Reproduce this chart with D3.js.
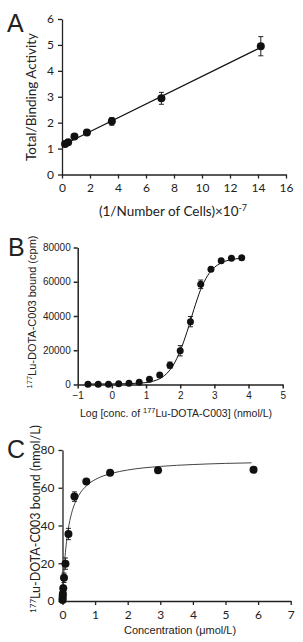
<!DOCTYPE html>
<html>
<head>
<meta charset="utf-8">
<style>
  body { margin: 0; background: #fff; }
  text { fill: #222; }
</style>
</head>
<body>
<script src="https://cdn.jsdelivr.net/npm/d3@7"></script>
<script>
// ---- panel A: total/binding vs 1/number of cells
var aX = [0.22, 0.44, 0.89, 1.78, 3.56, 7.1, 14.2];
var aY = [1.18, 1.24, 1.47, 1.62, 2.05, 2.94, 4.95];
var aErr = [0.05, 0.05, 0.07, 0.06, 0.15, 0.23, 0.37];
var aLineX = [0.1, 14.3];
var aLineY = [1.15, 4.93];
var aXTicks = [0, 2, 4, 6, 8, 10, 12, 14, 16];
var aYTicks = [0, 1, 2, 3, 4, 5, 6];

// ---- panel B: saturation, log concentration
var bX = [-0.7, -0.4, -0.1, 0.2, 0.5, 0.8, 1.1, 1.4, 1.7, 2.0, 2.3, 2.6, 2.9, 3.2, 3.5, 3.8];
var bY = [100, 150, 200, 500, 800, 1300, 3000, 5600, 11300, 19700, 36700, 58500, 67300, 72300, 73700, 74000];
var bErr = [200, 200, 200, 200, 300, 300, 400, 700, 1800, 3000, 3000, 2500, 900, 500, 400, 300];
var bCurveX = [-0.7, 0, 0.5, 0.8, 1.0, 1.2, 1.4, 1.6, 1.8, 2.0, 2.2, 2.4, 2.6, 2.8, 3.0, 3.2, 3.4, 3.6, 3.8];
var bCurveY = [300, 350, 500, 800, 1100, 1900, 3400, 6300, 11400, 19600, 30800, 43800, 55500, 63500, 68300, 71000, 72500, 73300, 73700];
var bXTicks = [-1, 0, 1, 2, 3, 4, 5];
var bYTicks = [0, 20000, 40000, 60000, 80000];

// ---- panel C: saturation, linear concentration
var cX = [0.0014, 0.0029, 0.0057, 0.011, 0.023, 0.046, 0.091, 0.183, 0.366, 0.73, 1.46, 2.93, 5.86];
var cY = [0.5, 1.3, 2.6, 3.9, 6.8, 12.3, 19.8, 35.5, 55.3, 63.3, 67.9, 69.3, 69.5];
var cErr = [0.5, 0.8, 1, 1, 1.5, 2.5, 3, 3, 2.5, 1, 1, 1, 1];
var cCurveX = [0, 0.03, 0.06, 0.1, 0.15, 0.2, 0.3, 0.4, 0.5, 0.75, 1.0, 1.5, 2, 3, 4, 5, 5.8];
var cCurveY = [0, 11, 19.5, 27.6, 35.0, 40.4, 47.8, 52.6, 56.0, 61.3, 64.3, 67.6, 69.4, 71.3, 72.3, 72.9, 73.2];
var cXTicks = [0, 1, 2, 3, 4, 5, 6, 7];
var cYTicks = [0, 20, 40, 60, 80];

var width = 303, height = 642;
var calibri = 'Lato, "Open Sans", sans-serif';
var arial = '"Liberation Sans", Arial, sans-serif';
var intFmt = d3.format('d');

var svg = d3.select('body').append('svg')
    .attr('width', width).attr('height', height);

function errorBars(g, xs, ys, es, x, y, cap) {
    var grp = g.append('g').attr('stroke', '#222').attr('stroke-width', 1);
    xs.forEach(function (v, i) {
        var px = x(v), top = y(ys[i] + es[i]), bot = y(ys[i] - es[i]);
        grp.append('line').attr('x1', px).attr('x2', px).attr('y1', top).attr('y2', bot);
        grp.append('line').attr('x1', px - cap).attr('x2', px + cap).attr('y1', top).attr('y2', top);
        grp.append('line').attr('x1', px - cap).attr('x2', px + cap).attr('y1', bot).attr('y2', bot);
    });
}

function dots(g, xs, ys, x, y, r) {
    g.selectAll('circle.pt').data(xs).enter().append('circle')
        .attr('class', 'pt')
        .attr('cx', function (d) { return x(d); })
        .attr('cy', function (d, i) { return y(ys[i]); })
        .attr('r', r)
        .attr('fill', '#111');
}

function styleAxis(g, font, size, sw) {
    g.selectAll('path, line').attr('stroke', '#222').attr('stroke-width', sw);
    g.selectAll('text').attr('font-family', font).attr('font-size', size).attr('fill', '#222');
}

// ================= A =================
(function () {
    var x = d3.scaleLinear().domain([0, 16]).range([62, 286]);
    var y = d3.scaleLinear().domain([0, 6]).range([174.5, 19]);
    var g = svg.append('g');

    var gx = g.append('g').attr('transform', 'translate(0,' + y(0) + ')')
        .call(d3.axisBottom(x).tickValues(aXTicks).tickFormat(intFmt).tickSize(4).tickSizeOuter(0).tickPadding(5));
    styleAxis(gx, calibri, 12, 1.3);
    var gy = g.append('g').attr('transform', 'translate(' + x(0) + ',0)')
        .call(d3.axisLeft(y).tickValues(aYTicks).tickFormat(intFmt).tickSize(4).tickSizeOuter(0).tickPadding(4));
    styleAxis(gy, calibri, 12, 1.3);

    g.append('line')
        .attr('x1', x(aLineX[0])).attr('y1', y(aLineY[0]))
        .attr('x2', x(aLineX[1])).attr('y2', y(aLineY[1]))
        .attr('stroke', '#111').attr('stroke-width', 1.2);

    errorBars(g, aX, aY, aErr, x, y, 2.5);
    dots(g, aX, aY, x, y, 4);

    g.append('text').attr('x', 7).attr('y', 32)
        .attr('font-family', arial).attr('font-size', 25).text('A');

    g.append('text')
        .attr('transform', 'translate(36,97) rotate(-90)')
        .attr('text-anchor', 'middle')
        .attr('font-family', calibri).attr('font-size', 13.5)
        .text('Total/Binding Activity');

    var xl = g.append('text').attr('x', 173).attr('y', 216)
        .attr('text-anchor', 'middle')
        .attr('font-family', calibri).attr('font-size', 13.5);
    xl.append('tspan').text('(1/Number of Cells)\u00d710');
    xl.append('tspan').attr('dy', -5).attr('font-size', 9).text('-7');
})();

// ================= B =================
(function () {
    var x = d3.scaleLinear().domain([-1, 5]).range([77.7, 282.7]);
    var y = d3.scaleLinear().domain([0, 80000]).range([384.5, 247.5]);
    var g = svg.append('g');

    var gx = g.append('g').attr('transform', 'translate(0,' + y(0) + ')')
        .call(d3.axisBottom(x).tickValues(bXTicks).tickFormat(intFmt).tickSize(4).tickSizeOuter(0).tickPadding(3));
    styleAxis(gx, arial, 10, 1.5);
    var gy = g.append('g').attr('transform', 'translate(' + x(-1) + ',0)')
        .call(d3.axisLeft(y).tickValues(bYTicks).tickFormat(intFmt).tickSize(4).tickSizeOuter(0).tickPadding(3));
    styleAxis(gy, arial, 10, 1.5);

    var line = d3.line()
        .x(function (d) { return x(d); })
        .y(function (d, i) { return y(bCurveY[i]); })
        .curve(d3.curveMonotoneX);
    g.append('path').datum(bCurveX).attr('d', line)
        .attr('fill', 'none').attr('stroke', '#111').attr('stroke-width', 1);

    errorBars(g, bX, bY, bErr, x, y, 2.5);
    dots(g, bX, bY, x, y, 3.5);

    g.append('text').attr('x', 8).attr('y', 256)
        .attr('font-family', arial).attr('font-size', 25).text('B');

    var yl = g.append('text')
        .attr('transform', 'translate(36,312) rotate(-90)')
        .attr('text-anchor', 'middle')
        .attr('font-family', arial).attr('font-size', 11);
    yl.append('tspan').attr('font-size', 7.5).attr('dy', -4).text('177');
    yl.append('tspan').attr('dy', 4).text('Lu-DOTA-C003 bound (cpm)');

    var xl = g.append('text').attr('x', 176).attr('y', 417)
        .attr('text-anchor', 'middle')
        .attr('font-family', arial).attr('font-size', 10.5);
    xl.append('tspan').text('Log [conc. of ');
    xl.append('tspan').attr('font-size', 7.5).attr('dy', -4).text('177');
    xl.append('tspan').attr('dy', 4).text('Lu-DOTA-C003] (nmol/L)');
})();

// ================= C =================
(function () {
    var x = d3.scaleLinear().domain([0, 7]).range([62.5, 290.7]);
    var y = d3.scaleLinear().domain([0, 80]).range([601, 450]);
    var g = svg.append('g');

    var gx = g.append('g').attr('transform', 'translate(0,' + y(0) + ')')
        .call(d3.axisBottom(x).tickValues(cXTicks).tickFormat(intFmt).tickSize(4).tickSizeOuter(0).tickPadding(5));
    styleAxis(gx, calibri, 12, 1.3);
    var gy = g.append('g').attr('transform', 'translate(' + x(0) + ',0)')
        .call(d3.axisLeft(y).tickValues(cYTicks).tickFormat(intFmt).tickSize(4).tickSizeOuter(0).tickPadding(4));
    styleAxis(gy, calibri, 12, 1.3);

    var line = d3.line()
        .x(function (d) { return x(d); })
        .y(function (d, i) { return y(cCurveY[i]); })
        .curve(d3.curveMonotoneX);
    g.append('path').datum(cCurveX).attr('d', line)
        .attr('fill', 'none').attr('stroke', '#444').attr('stroke-width', 1);

    errorBars(g, cX, cY, cErr, x, y, 2.5);
    dots(g, cX, cY, x, y, 4);

    g.append('text').attr('x', 7).attr('y', 458)
        .attr('font-family', arial).attr('font-size', 25).text('C');

    var yl = g.append('text')
        .attr('transform', 'translate(40,519) rotate(-90)')
        .attr('text-anchor', 'middle')
        .attr('font-family', calibri).attr('font-size', 12.5);
    yl.append('tspan').attr('font-size', 8).attr('dy', -4).text('177');
    yl.append('tspan').attr('dy', 4).text('Lu-DOTA-C003 bound (nmol/L)');

    g.append('text').attr('x', 180).attr('y', 634)
        .attr('text-anchor', 'middle')
        .attr('font-family', arial).attr('font-size', 11)
        .text('Concentration (\u03bcmol/L)');
})();
</script>
</body>
</html>
